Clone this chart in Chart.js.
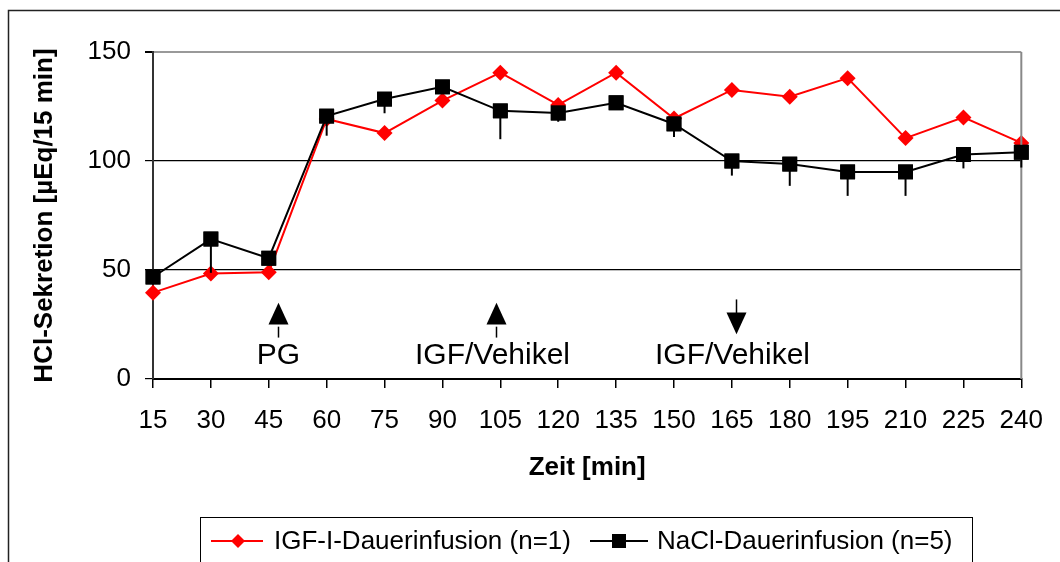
<!DOCTYPE html>
<html lang="de">
<head>
<meta charset="UTF-8">
<title>HCl-Sekretion</title>
<script src="https://cdn.jsdelivr.net/npm/chart.js"></script>
<style>
  body { margin: 0; background: #fff; }
  canvas { display: block; }
</style>
</head>
<body>
<canvas id="chart" width="1060" height="562"></canvas>
<script>
// Daten
const zeit = ['15', '30', '45', '60', '75', '90', '105', '120', '135', '150', '165', '180', '195', '210', '225', '240'];
const igf = [39.6, 48.4, 49, 119.3, 112.8, 127.7, 140.5, 125.7, 140.5, 119.5, 132.6, 129.5, 138, 110.5, 120, 108.3];
const nacl = [46.8, 64.2, 55.4, 120.6, 128.4, 134, 123, 122, 126.7, 117, 100, 98.6, 95, 95, 103, 104];
const naclFehler = [0, 15.5, 0, 9, 6.5, 0, 13, 4, 0, 6, 6.7, 10, 11, 11, 6.4, 7];
const yTicks = [0, 50, 100, 150];
// Pfeile: Zeitpunkt (min), Text, Richtung
const pfeile = [
  { zeit: 47.5, text: 'PG', richtung: 'hoch' },
  { zeit: 104, text: 'IGF/Vehikel', richtung: 'hoch' },
  { zeit: 166, text: 'IGF/Vehikel', richtung: 'runter' }
];

const schrift = 'Liberation Sans, Arial, sans-serif';

function zeitZuPixel(x, min) {
  const step = x.getPixelForValue(1) - x.getPixelForValue(0);
  return x.getPixelForValue(0) + (min - 15) / 15 * step;
}

const extras = {
  id: 'extras',
  beforeDraw(chart) {
    const ctx = chart.ctx;
    ctx.save();
    ctx.fillStyle = '#fff';
    ctx.fillRect(0, 0, chart.width, chart.height);
    ctx.strokeStyle = '#222';
    ctx.lineWidth = 1.5;
    ctx.strokeRect(8.5, 10.5, 1100, 600);
    ctx.restore();
  },
  afterDatasetsDraw(chart) {
    const ctx = chart.ctx;
    const x = chart.scales.x, y = chart.scales.y;
    const a = chart.chartArea;
    ctx.save();
    // rechter Rand
    ctx.strokeStyle = '#888';
    ctx.lineWidth = 2;
    ctx.beginPath();
    ctx.moveTo(a.right, a.top);
    ctx.lineTo(a.right, a.bottom);
    ctx.stroke();

    // Fehlerbalken (nur nach unten)
    ctx.strokeStyle = '#000';
    ctx.lineWidth = 2;
    nacl.forEach((v, i) => {
      if (!naclFehler[i]) return;
      const px = x.getPixelForValue(i);
      ctx.beginPath();
      ctx.moveTo(px, y.getPixelForValue(v));
      ctx.lineTo(px, y.getPixelForValue(v - naclFehler[i]));
      ctx.stroke();
    });
    // Quadrate nochmal drüber
    const meta = chart.getDatasetMeta(0);
    meta.data.forEach(p => p.draw(ctx, a));

    // Pfeile und Beschriftung
    ctx.fillStyle = '#000';
    ctx.font = '30px ' + schrift;
    ctx.textAlign = 'center';
    ctx.textBaseline = 'middle';
    pfeile.forEach(p => {
      const px = Math.round(zeitZuPixel(x, p.zeit)) + 0.5;
      ctx.lineWidth = 1.5;
      ctx.beginPath();
      if (p.richtung === 'hoch') {
        ctx.moveTo(px, y.getPixelForValue(24));
        ctx.lineTo(px, y.getPixelForValue(19));
        ctx.stroke();
        ctx.beginPath();
        ctx.moveTo(px, y.getPixelForValue(35));
        ctx.lineTo(px - 10, y.getPixelForValue(25));
        ctx.lineTo(px + 10, y.getPixelForValue(25));
      } else {
        ctx.moveTo(px, y.getPixelForValue(36.5));
        ctx.lineTo(px, y.getPixelForValue(30));
        ctx.stroke();
        ctx.beginPath();
        ctx.moveTo(px - 10, y.getPixelForValue(30.5));
        ctx.lineTo(px + 10, y.getPixelForValue(30.5));
        ctx.lineTo(px, y.getPixelForValue(20.5));
      }
      ctx.closePath();
      ctx.fill();
      ctx.fillText(p.text, px - (p.text.length > 2 ? 4 : 0), y.getPixelForValue(10.5));
    });

    // Legende
    ctx.strokeStyle = '#000';
    ctx.lineWidth = 1;
    ctx.strokeRect(200.5, 517.5, 772, 80);
    ctx.font = '26px ' + schrift;
    ctx.textAlign = 'left';
    const ly = 541;
    ctx.strokeStyle = '#ff0000';
    ctx.lineWidth = 2;
    ctx.beginPath(); ctx.moveTo(211, ly); ctx.lineTo(263, ly); ctx.stroke();
    ctx.fillStyle = '#ff0000';
    ctx.beginPath();
    ctx.moveTo(238, ly - 7); ctx.lineTo(245, ly); ctx.lineTo(238, ly + 7); ctx.lineTo(231, ly);
    ctx.closePath(); ctx.fill();
    ctx.fillStyle = '#000';
    ctx.fillText('IGF-I-Dauerinfusion (n=1)', 274, ly + 1);
    ctx.strokeStyle = '#000';
    ctx.beginPath(); ctx.moveTo(590, ly); ctx.lineTo(648, ly); ctx.stroke();
    ctx.fillRect(612, ly - 7, 14, 14);
    ctx.fillText('NaCl-Dauerinfusion (n=5)', 657, ly + 1);
    ctx.restore();
  }
};

new Chart(document.getElementById('chart'), {
  type: 'line',
  data: {
    labels: zeit,
    datasets: [{
      label: 'NaCl-Dauerinfusion (n=5)',
      data: nacl,
      borderColor: '#000',
      backgroundColor: '#000',
      borderWidth: 2,
      pointStyle: 'rect',
      pointRadius: 10.5,
      pointBorderWidth: 0,
      tension: 0,
      order: 0
    }, {
      label: 'IGF-I-Dauerinfusion (n=1)',
      data: igf,
      borderColor: '#ff0000',
      backgroundColor: '#ff0000',
      borderWidth: 2,
      pointStyle: 'rectRot',
      pointRadius: 8,
      pointBorderWidth: 0,
      tension: 0,
      order: 1
    }]
  },
  options: {
    responsive: false,
    animation: false,
    devicePixelRatio: 1,
    layout: { padding: { left: 0, right: 37, top: 52, bottom: 0 } },
    plugins: { legend: { display: false }, tooltip: { enabled: false } },
    scales: {
      x: {
        offset: false,
        grid: { drawOnChartArea: false, drawTicks: true, tickLength: 9, color: '#000', lineWidth: 1.5 },
        border: { color: '#000', width: 2 },
        ticks: { color: '#000', font: { family: schrift, size: 26 }, padding: 17, maxRotation: 0, autoSkip: false },
        title: { display: true, text: 'Zeit [min]', color: '#000', font: { family: schrift, size: 26, weight: 'bold' }, padding: { top: 79, bottom: 79 } },
        afterFit(s) { s.height = 183; }
      },
      y: {
        min: 0, max: 150,
        afterBuildTicks(s) { s.ticks = yTicks.map(v => ({ value: v })); },
        grid: {
          color: c => c.tick && c.tick.value === 150 ? '#999' : '#000',
          lineWidth: c => c.tick && c.tick.value === 150 ? 2 : 1.2,
          tickColor: '#000',
          tickLength: 8
        },
        border: { color: '#333', width: 2 },
        ticks: { color: '#000', font: { family: schrift, size: 26 }, padding: 14 },
        title: { display: true, text: 'HCl-Sekretion [µEq/15 min]', color: '#000', font: { family: schrift, size: 26, weight: 'bold' }, padding: { top: 29, bottom: 29 } },
        afterFit(s) { s.width = 153; }
      }
    }
  },
  plugins: [extras]
});
</script>
</body>
</html>
